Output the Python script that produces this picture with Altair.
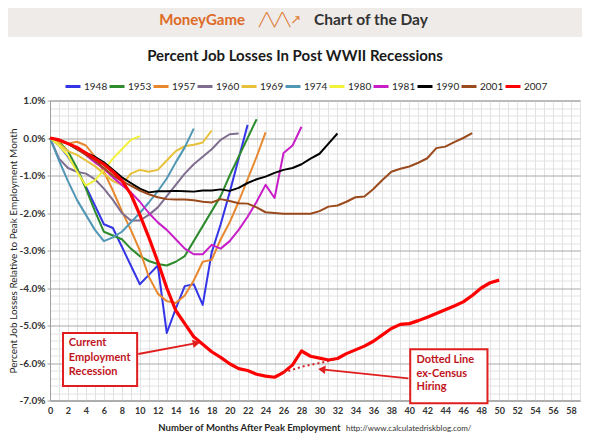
import math
import altair as alt
import pandas as pd

# ---------------- data (percent job losses relative to peak month) ----------------
series_names = ["1948", "1953", "1957", "1960", "1969", "1974", "1980", "1981", "1990", "2001", "2007"]
series_colors = ["#3535e8", "#2e8b2e", "#e8882e", "#7f6d8f", "#e8c13a", "#4f97b5",
                 "#f2f23a", "#c81ec8", "#000000", "#9a4a1c", "#ff0000"]

v1948 = [0, -0.2, -0.5, -0.85, -1.3, -1.8, -2.3, -2.4, -2.9, -3.4, -3.9, -3.65, -3.4,
         -5.2, -4.55, -3.95, -3.9, -4.45, -3.05, -2.3, -1.45, -0.55, 0.35]
v1953 = [0, -0.1, -0.35, -0.8, -1.35, -1.95, -2.5, -2.6, -2.7, -2.95, -3.15, -3.28, -3.36,
         -3.4, -3.3, -3.15, -2.75, -2.35, -1.95, -1.55, -1.0, -0.5, 0.0, 0.5]
v1957 = [0, -0.1, -0.15, -0.1, -0.2, -0.5, -0.9, -1.4, -1.95, -2.45, -3.0, -3.7, -4.15,
         -4.35, -4.4, -4.2, -3.8, -3.3, -3.25, -2.7, -2.25, -1.7, -1.1, -0.5, 0.15]
v1960 = [0, -0.55, -0.8, -0.9, -0.95, -1.1, -1.35, -1.65, -2.0, -2.2, -2.2, -2.05, -1.85,
         -1.55, -1.25, -0.95, -0.7, -0.5, -0.3, -0.05, 0.1, 0.12]
v1969 = [0, -0.15, -0.35, -0.45, -0.6, -0.75, -0.95, -1.15, -1.25, -0.95, -0.85, -0.9,
         -0.85, -0.6, -0.35, -0.22, -0.18, -0.12, 0.2]
v1974 = [0, -0.6, -1.15, -1.65, -2.05, -2.45, -2.75, -2.65, -2.5, -2.25, -2.0, -1.72,
         -1.42, -1.08, -0.65, -0.25, 0.25]
v1980 = [0, -0.2, -0.47, -0.9, -1.27, -1.13, -0.85, -0.55, -0.3, -0.05, 0.05]
v1981 = [0, -0.05, -0.15, -0.25, -0.45, -0.65, -0.82, -1.05, -1.25, -1.45, -1.7, -2.0,
         -2.25, -2.45, -2.7, -2.95, -3.1, -3.1, -2.85, -2.95, -2.75, -2.45, -2.1, -1.7,
         -1.25, -1.6, -0.4, -0.2, 0.3]
v1990 = [0, -0.05, -0.15, -0.3, -0.4, -0.5, -0.65, -0.85, -1.05, -1.2, -1.35, -1.45,
         -1.42, -1.42, -1.41, -1.42, -1.43, -1.4, -1.4, -1.37, -1.41, -1.33, -1.2, -1.1,
         -1.03, -0.93, -0.85, -0.8, -0.7, -0.55, -0.42, -0.15, 0.12]
v2001 = [0, -0.05, -0.15, -0.3, -0.45, -0.6, -0.8, -1.0, -1.15, -1.27, -1.4, -1.5,
         -1.58, -1.63, -1.64, -1.64, -1.66, -1.7, -1.72, -1.63, -1.68, -1.74, -1.75,
         -1.85, -1.98, -2.0, -2.02, -2.02, -2.02, -2.02, -1.95, -1.83, -1.8, -1.7,
         -1.58, -1.56, -1.36, -1.12, -0.9, -0.82, -0.76, -0.66, -0.54, -0.27, -0.23,
         -0.11, 0.0, 0.13]
v2007 = [0, -0.05, -0.15, -0.25, -0.4, -0.55, -0.7, -0.9, -1.13, -1.5, -2.05, -2.65,
         -3.3, -4.0, -4.6, -4.95, -5.3, -5.5, -5.7, -5.85, -6.02, -6.15, -6.2, -6.3,
         -6.35, -6.38, -6.25, -6.05, -5.68, -5.82, -5.87, -5.92, -5.88, -5.75, -5.65,
         -5.55, -5.42, -5.25, -5.08, -4.97, -4.95, -4.87, -4.78, -4.68, -4.58, -4.48,
         -4.37, -4.2, -4.0, -3.86, -3.79]

dotted_months = [26, 27, 28, 29, 30, 31, 32]
dotted_values = [-6.25, -6.18, -6.1, -6.05, -6.0, -5.95, -5.88]

series_values = [v1948, v1953, v1957, v1960, v1969, v1974, v1980, v1981, v1990, v2001, v2007]

x_ticks = list(range(0, 60))
y_ticks = [round(-7 + 0.2 * i, 1) for i in range(41)]

# annotation boxes (data units) and texts
box_x = [1.45, 40.1]
box_x2 = [9.7, 48.7]
box_y = [-5.2, -5.63]
box_y2 = [-6.61, -7.07]
note_x = [2.1, 2.1, 2.1, 40.8, 40.8, 40.8]
note_y = [-5.47, -5.86, -6.23, -5.92, -6.29, -6.65]
note_text = ["Current", "Employment", "Recession", "Dotted  Line", "ex-Census", "Hiring"]
arrow_x = [9.83, 39.9]
arrow_y = [-5.76, -6.41]
arrow_x2 = [16.3, 30.25]
arrow_y2 = [-5.47, -6.17]

# ---------------- tables ----------------
rows = []
for name, vals in zip(series_names, series_values):
    for m, v in enumerate(vals):
        rows.append({"month": m, "value": v, "series": name})
df = pd.DataFrame(rows)
df_main = df[df.series != "2007"]
df_2007 = df[df.series == "2007"]
df_dot = pd.DataFrame({"month": dotted_months, "value": dotted_values})

W, H = 530, 300
XMAX, YMIN, YMAX = 59, -7, 1
pxm = W / XMAX
pyv = H / (YMAX - YMIN)

df_box = pd.DataFrame({"x": box_x, "x2": box_x2, "y": box_y, "y2": box_y2})
df_note = pd.DataFrame({"x": note_x, "y": note_y, "t": note_text})
angles = []
for a, b, c, d in zip(arrow_x, arrow_y, arrow_x2, arrow_y2):
    ang = math.degrees(math.atan2(-(d - b) * pyv, (c - a) * pxm)) % 360
    angles.append(ang)
df_arrow = pd.DataFrame({"x": arrow_x, "y": arrow_y, "x2": arrow_x2, "y2": arrow_y2, "ang": angles})

FONT = "Lato"
RED = "#e01e1e"
TXT_RED = "#c0141c"

xscale = alt.Scale(domain=[0, XMAX], nice=False, zero=False)
yscale = alt.Scale(domain=[YMIN, YMAX], nice=False, zero=False)

is_major = "abs(datum.value - round(datum.value)) < 0.01"

y_axis = alt.Axis(
    values=y_ticks,
    title="Percent Job Losses Relative to Peak Employment Month",
    titleFont=FONT, titleFontSize=10, titleFontWeight="normal", titleColor="#262626",
    titleAngle=270, titleX=-34, titleY=150, titleAlign="center", titleBaseline="alphabetic",
    labelExpr=is_major + " ? ((datum.value < 0 ? '-' : '') + format(abs(datum.value), '.1f') + '%') : ''",
    labelFont=FONT, labelFontSize=10, labelFontWeight="bold", labelColor="#333333",
    labelPadding=2, tickSize=3,
    tickColor={"condition": {"test": is_major, "value": "#a0a0a0"}, "value": "transparent"},
    gridColor={"condition": {"test": is_major, "value": "#a8a8a8"}, "value": "#e2e2e2"},
    gridWidth=1, domainColor="#a0a0a0",
)
x_axis = alt.Axis(
    values=x_ticks,
    title="Number of Months After Peak Employment",
    titleFont=FONT, titleFontSize=9.5, titleFontWeight="bold", titleColor="#262626",
    titleAlign="right", titleAnchor="start", titleX=290, titleY=30, titleBaseline="alphabetic",
    labelExpr="datum.value % 2 == 0 && datum.value <= 58 ? datum.value : ''",
    labelFont=FONT, labelFontSize=9, labelFontWeight="bold", labelColor="#333333",
    labelPadding=6, tickSize=0, labelFlush=False, labelOverlap=False,
    gridColor="#e2e2e2", gridWidth=1, domainColor="#a0a0a0",
)

color_scale = alt.Scale(domain=series_names, range=series_colors)

lines = alt.Chart(df_main).mark_line(strokeWidth=2, strokeJoin="round").encode(
    x=alt.X("month:Q", scale=xscale, axis=x_axis),
    y=alt.Y("value:Q", scale=yscale, axis=y_axis),
    color=alt.Color("series:N", scale=color_scale, legend=alt.Legend(
        orient="none", legendX=14, legendY=-23, direction="horizontal", columns=11,
        title=None, symbolType="stroke", symbolStrokeWidth=3, symbolSize=225,
        labelFont=FONT, labelFontSize=10, labelColor="#262626",
        columnPadding=-5, labelOffset=2)),
    detail="series:N",
)

line2007 = alt.Chart(df_2007).mark_line(strokeWidth=3.2, strokeJoin="round").encode(
    x=alt.X("month:Q", scale=xscale, axis=None),
    y=alt.Y("value:Q", scale=yscale, axis=None),
    color=alt.Color("series:N", scale=color_scale, legend=None),
)

dotted = alt.Chart(df_dot).mark_line(strokeWidth=2, strokeDash=[2, 3], color="#d42020").encode(
    x=alt.X("month:Q", scale=xscale, axis=None),
    y=alt.Y("value:Q", scale=yscale, axis=None),
)

boxes = alt.Chart(df_box).mark_rect(fill="white", stroke=RED, strokeWidth=2).encode(
    x=alt.X("x:Q", scale=xscale, axis=None), x2="x2:Q",
    y=alt.Y("y:Q", scale=yscale, axis=None), y2="y2:Q",
)
notes = alt.Chart(df_note).mark_text(align="left", baseline="middle", font=FONT,
                                      fontSize=11, fontWeight="bold", color=TXT_RED).encode(
    x=alt.X("x:Q", scale=xscale, axis=None),
    y=alt.Y("y:Q", scale=yscale, axis=None),
    text="t:N",
)
arrow_lines = alt.Chart(df_arrow).mark_rule(color=RED, strokeWidth=2).encode(
    x=alt.X("x:Q", scale=xscale, axis=None), x2="x2:Q",
    y=alt.Y("y:Q", scale=yscale, axis=None), y2="y2:Q",
)
arrow_heads = alt.Chart(df_arrow).mark_point(shape="triangle-right", filled=True, color=RED,
                                              size=70, opacity=1).encode(
    x=alt.X("x2:Q", scale=xscale, axis=None),
    y=alt.Y("y2:Q", scale=yscale, axis=None),
    angle=alt.Angle("ang:Q", scale=None),
)

one = pd.DataFrame({"k": [0]})
header_band = alt.Chart(one).mark_rect(color="#efebe8").encode(
    x=alt.value(-42), x2=alt.value(532), y=alt.value(-92.5), y2=alt.value(-63.5))
header_money = alt.Chart(one).mark_text(text="MoneyGame", align="right", baseline="middle",
                                         font=FONT, fontSize=15, fontWeight="bold",
                                         color="#dd6a26").encode(x=alt.value(195), y=alt.value(-81))
header_logo = alt.Chart(one).mark_text(text="╱╲╱╲↗", align="center", baseline="middle",
                                        font="DejaVu Sans", fontSize=13,
                                        color="#e07a30").encode(x=alt.value(230), y=alt.value(-81))
header_cotd = alt.Chart(one).mark_text(text="Chart of the Day", align="left", baseline="middle",
                                        font=FONT, fontSize=15.5, fontWeight="bold",
                                        color="#333333").encode(x=alt.value(264), y=alt.value(-81))
title = alt.Chart(one).mark_text(text="Percent Job Losses In Post WWII Recessions", align="center",
                                  baseline="middle", font=FONT, fontSize=15, fontWeight="bold",
                                  color="#1a1a1a").encode(x=alt.value(245), y=alt.value(-45))
url = alt.Chart(one).mark_text(text="http://www.calculatedriskblog.com/", align="left",
                                baseline="alphabetic", font=FONT, fontSize=8,
                                color="#333333").encode(x=alt.value(296), y=alt.value(330))

chart = alt.layer(
    lines, line2007, dotted, arrow_lines, arrow_heads, boxes, notes,
    header_band, header_money, header_logo, header_cotd, title, url,
).resolve_axis(x="independent", y="independent").properties(
    width=W, height=H,
    autosize=alt.AutoSizeParams(type="none"),
    padding={"left": 42, "top": 92.5, "right": 2, "bottom": 34.5},
    background="white",
).configure_view(stroke="#a0a0a0", strokeWidth=1)

chart.save("out.html", embed_options={"renderer": "svg", "actions": False})
